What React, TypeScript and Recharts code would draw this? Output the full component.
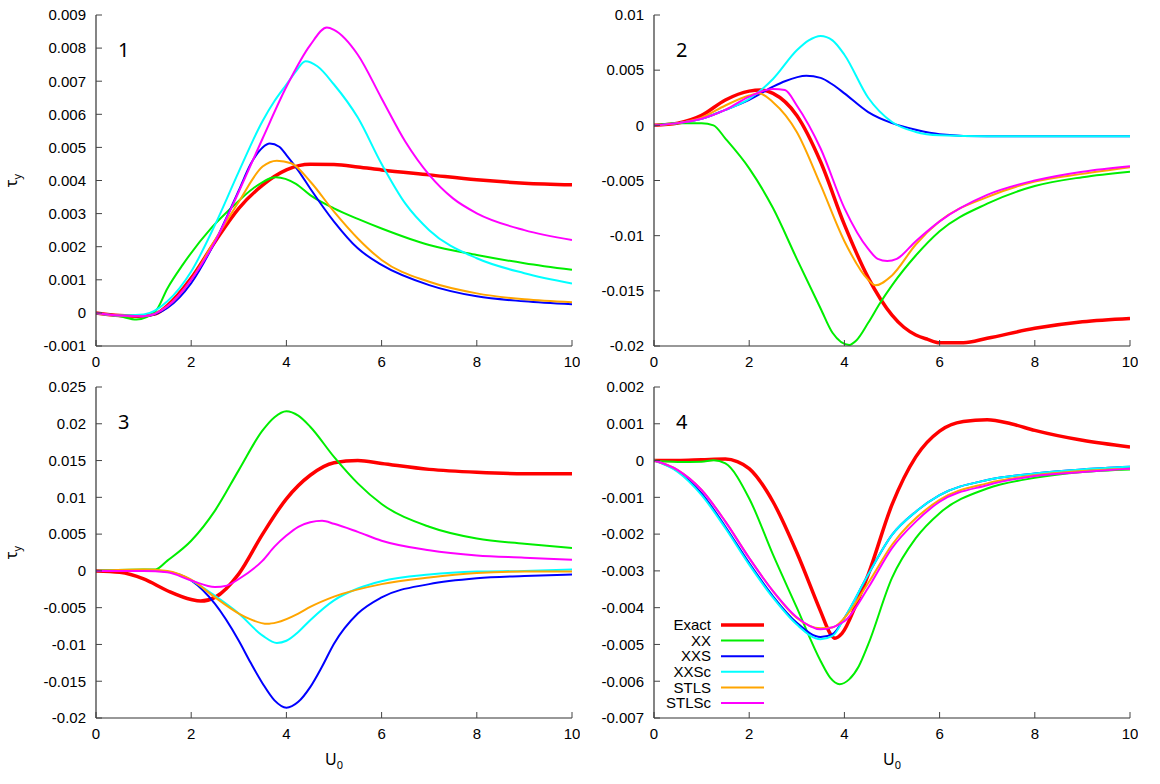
import React from 'react'
import { LineChart, Line, XAxis, YAxis } from 'recharts'

type Pt = [number, number]

const U_TICKS = [0, 2, 4, 6, 8, 10]
const TICKS_1 = [-0.001, 0, 0.001, 0.002, 0.003, 0.004, 0.005, 0.006, 0.007, 0.008, 0.009]
const TICKS_2 = [-0.02, -0.015, -0.01, -0.005, 0, 0.005, 0.01]
const TICKS_3 = [-0.02, -0.015, -0.01, -0.005, 0, 0.005, 0.01, 0.015, 0.02, 0.025]
const TICKS_4 = [-0.007, -0.006, -0.005, -0.004, -0.003, -0.002, -0.001, 0, 0.001, 0.002]

const SERIES_NAMES = ['Exact', 'XX', 'XXS', 'XXSc', 'STLS', 'STLSc']
const SERIES_COLORS = ['#ff0000', '#00ee00', '#0000ff', '#00ffff', '#ffa500', '#ff00ff']
const SERIES_WIDTHS = [3.5, 2, 2, 2, 2, 2]

// panel 1
const p1Exact: Pt[] = [[0, 0], [0.5, -0.00008], [0.9, -0.0001], [1.25, -0.00003], [1.5, 0.00022], [2, 0.00105], [2.5, 0.00215], [3, 0.00316], [3.5, 0.00386], [4, 0.00432], [4.5, 0.00449], [5, 0.00448], [5.5, 0.00441], [6, 0.00432], [7, 0.00417], [8, 0.00402], [9, 0.00392], [10, 0.00387]]
const p1XX: Pt[] = [[0, 0], [0.5, -0.0001], [0.85, -0.0002], [1.25, 0.00005], [1.5, 0.00074], [1.82, 0.00145], [2.42, 0.00256], [2.87, 0.00321], [3.3, 0.00376], [3.78, 0.0041], [4.2, 0.0039], [4.5, 0.00356], [5, 0.00316], [5.5, 0.00284], [6, 0.00255], [7, 0.00205], [8, 0.00175], [9, 0.0015], [10, 0.0013]]
const p1XXS: Pt[] = [[0, 0], [0.5, -0.00008], [1, -0.0001], [1.5, 0.00015], [2, 0.0009], [2.5, 0.00215], [3, 0.0037], [3.25, 0.0045], [3.5, 0.005], [3.65, 0.00512], [3.85, 0.00502], [4, 0.00477], [4.25, 0.0043], [4.5, 0.00376], [5, 0.00276], [5.5, 0.00195], [6, 0.00145], [7, 0.00084], [8, 0.0005], [9, 0.00035], [10, 0.00026]]
const p1XXSc: Pt[] = [[0, 0], [0.5, -0.00008], [1, -0.00005], [1.5, 0.00035], [2, 0.00125], [2.5, 0.00266], [3, 0.00427], [3.5, 0.0058], [3.75, 0.0064], [4, 0.0069], [4.2, 0.0073], [4.4, 0.0076], [4.65, 0.00745], [5, 0.0069], [5.5, 0.0059], [6, 0.0045], [6.5, 0.0033], [7, 0.0025], [8, 0.00165], [9, 0.0012], [10, 0.00089]]
const p1STLS: Pt[] = [[0, 0], [0.5, -0.00008], [1, -0.0001], [1.5, 0.0002], [2, 0.001], [2.5, 0.0022], [3, 0.00336], [3.5, 0.00442], [3.8, 0.0046], [4.1, 0.00452], [4.5, 0.00397], [5, 0.00306], [5.5, 0.00225], [6, 0.0016], [7, 0.00094], [8, 0.00059], [9, 0.00041], [10, 0.00032]]
const p1STLSc: Pt[] = [[0, 0], [0.5, -0.00008], [1, -0.0001], [1.5, 0.0002], [2, 0.001], [2.5, 0.00215], [3, 0.00366], [3.5, 0.00527], [4, 0.00683], [4.5, 0.00809], [4.85, 0.00862], [5, 0.00855], [5.5, 0.0078], [6, 0.00648], [6.5, 0.00517], [7, 0.00417], [7.5, 0.00346], [8, 0.00301], [9, 0.0025], [10, 0.0022]]

// panel 2
const p2Exact: Pt[] = [[0, 0], [0.5, 0.0002], [1, 0.0009], [1.5, 0.0023], [2, 0.0031], [2.25, 0.0032], [2.5, 0.0029], [3, 0.0009], [3.5, -0.0033], [4, -0.009], [4.5, -0.0138], [5, -0.0172], [5.25, -0.0183], [5.5, -0.019], [5.75, -0.0194], [6, -0.0197], [6.5, -0.0197], [7, -0.0193], [8, -0.0184], [9, -0.0178], [10, -0.0175]]
const p2XX: Pt[] = [[0, 0], [0.5, 0.0002], [1, 0.0002], [1.25, 0], [1.5, -0.0012], [2, -0.0039], [2.5, -0.0075], [3, -0.0121], [3.5, -0.0166], [3.75, -0.0188], [4.1, -0.0199], [4.25, -0.0195], [4.5, -0.0179], [4.75, -0.0161], [5, -0.0145], [5.5, -0.0118], [6, -0.0096], [7, -0.0071], [8, -0.0055], [9, -0.0047], [10, -0.0042]]
const p2XXS: Pt[] = [[0, 0], [0.5, 0.0002], [1, 0.0006], [1.5, 0.0014], [2, 0.0023], [2.5, 0.0035], [2.75, 0.004], [3.2, 0.0045], [3.5, 0.0043], [3.75, 0.0037], [4, 0.0029], [4.5, 0.0012], [5, 0.0002], [5.5, -0.0004], [6, -0.0008], [7, -0.001], [8, -0.001], [10, -0.001]]
const p2XXSc: Pt[] = [[0, 0], [0.5, 0.0002], [1, 0.0006], [1.5, 0.0014], [2, 0.0024], [2.5, 0.0042], [3, 0.0068], [3.25, 0.0077], [3.5, 0.0081], [3.75, 0.0077], [4, 0.0064], [4.5, 0.0025], [5, 0.0003], [5.5, -0.0006], [6, -0.0009], [7, -0.001], [10, -0.001]]
const p2STLS: Pt[] = [[0, 0], [0.5, 0.0002], [1, 0.0007], [1.5, 0.0018], [2, 0.0027], [2.2, 0.0029], [2.5, 0.0021], [3, -0.0006], [3.5, -0.0054], [4, -0.0105], [4.5, -0.014], [4.65, -0.0145], [5, -0.0136], [5.5, -0.0108], [6, -0.0087], [7, -0.0065], [8, -0.0051], [9, -0.0044], [10, -0.0038]]
const p2STLSc: Pt[] = [[0, 0], [0.5, 0.0002], [1, 0.0006], [1.5, 0.0014], [2, 0.0026], [2.5, 0.0033], [2.75, 0.0032], [3, 0.0018], [3.5, -0.0021], [4, -0.0075], [4.5, -0.0112], [4.7, -0.0121], [4.9, -0.0123], [5.1, -0.0121], [5.5, -0.0105], [6, -0.0087], [7, -0.0063], [8, -0.005], [9, -0.0042], [10, -0.0037]]

// panel 3
const p3Exact: Pt[] = [[0, 0], [0.5, -0.0002], [1, -0.0011], [1.5, -0.0027], [2, -0.0039], [2.2, -0.0041], [2.5, -0.0036], [3, -0.0004], [3.5, 0.005], [4, 0.0098], [4.5, 0.013], [5, 0.0147], [5.5, 0.015], [6, 0.0146], [7, 0.0138], [8, 0.0134], [9, 0.0132], [10, 0.0132]]
const p3XX: Pt[] = [[0, 0], [1, 0.0002], [1.25, 0.0002], [1.5, 0.0014], [2, 0.0041], [2.5, 0.0082], [3, 0.0137], [3.5, 0.0191], [3.75, 0.0209], [4, 0.0217], [4.25, 0.0211], [4.5, 0.0196], [5, 0.0155], [5.5, 0.0119], [6, 0.0091], [7, 0.006], [8, 0.0044], [9, 0.0037], [10, 0.0031]]
const p3XXS: Pt[] = [[0, 0], [1, 0.0001], [1.5, -0.0001], [2, -0.0013], [2.5, -0.0045], [3, -0.0095], [3.25, -0.0125], [3.5, -0.0153], [3.75, -0.0176], [4, -0.0186], [4.25, -0.0178], [4.5, -0.0158], [4.75, -0.013], [5, -0.0099], [5.5, -0.0058], [6, -0.0036], [7, -0.0018], [8, -0.001], [9, -0.0007], [10, -0.0005]]
const p3XXSc: Pt[] = [[0, 0], [1, 0.0001], [1.5, -0.0001], [2, -0.0013], [2.5, -0.0034], [3, -0.0058], [3.5, -0.0088], [3.8, -0.0098], [4, -0.0095], [4.25, -0.0083], [4.5, -0.0067], [5, -0.004], [5.5, -0.0024], [6, -0.0014], [7, -0.0005], [8, -0.0001], [9, 0], [10, 0.0002]]
const p3STLS: Pt[] = [[0, 0], [1, 0.0002], [1.5, 0], [2, -0.0012], [2.5, -0.0036], [3, -0.0058], [3.25, -0.0066], [3.6, -0.0072], [3.8, -0.007], [4.25, -0.0058], [4.5, -0.0049], [5, -0.0035], [6, -0.0018], [7, -0.0009], [8, -0.0003], [9, -0.0001], [10, -0.0001]]
const p3STLSc: Pt[] = [[0, 0], [1, 0], [1.5, -0.0002], [2, -0.0013], [2.5, -0.0022], [2.75, -0.002], [3, -0.0011], [3.5, 0.0014], [3.75, 0.0033], [4, 0.0048], [4.25, 0.006], [4.5, 0.0066], [4.75, 0.0068], [5, 0.0064], [5.5, 0.0053], [6, 0.0041], [7, 0.0028], [8, 0.0021], [9, 0.0018], [10, 0.0015]]

// panel 4
const p4Exact: Pt[] = [[0, 0], [0.5, 0], [1, 0.00002], [1.5, 0.00004], [1.75, -0.00003], [2, -0.00022], [2.5, -0.00112], [3, -0.0025], [3.5, -0.0041], [3.7, -0.0047], [3.8, -0.00483], [3.95, -0.0047], [4.25, -0.0039], [4.5, -0.0031], [5, -0.0012], [5.5, 0.0001], [6, 0.0008], [6.5, 0.00106], [7, 0.00111], [7.5, 0.001], [8, 0.00082], [9, 0.00055], [10, 0.00037]]
const p4XX: Pt[] = [[0, 0], [0.5, -0.00004], [1, -0.00003], [1.25, 0.00001], [1.5, -0.00008], [2, -0.00103], [2.5, -0.00256], [3, -0.004], [3.5, -0.00545], [3.7, -0.0059], [3.9, -0.00608], [4.1, -0.00595], [4.3, -0.0056], [4.5, -0.005], [5, -0.00319], [5.5, -0.00211], [6, -0.00143], [7, -0.00076], [8, -0.00047], [9, -0.00031], [10, -0.00024]]
const p4XXS: Pt[] = [[0, 0], [0.5, -0.00029], [1, -0.00089], [1.5, -0.0018], [2, -0.00279], [2.5, -0.00369], [3, -0.00441], [3.5, -0.0048], [3.75, -0.00472], [4, -0.00428], [4.5, -0.0031], [5, -0.00202], [5.5, -0.00139], [6, -0.00094], [7, -0.00053], [8, -0.00035], [9, -0.00024], [10, -0.00017]]
const p4XXSc: Pt[] = [[0, 0], [0.5, -0.00031], [1, -0.00094], [1.5, -0.00184], [2, -0.00283], [2.5, -0.00373], [3, -0.00446], [3.5, -0.00486], [3.75, -0.00477], [4, -0.00428], [4.5, -0.0031], [5, -0.00202], [5.5, -0.00139], [6, -0.00094], [7, -0.00053], [8, -0.00035], [9, -0.00024], [10, -0.00017]]
const p4STLS: Pt[] = [[0, 0], [0.5, -0.00026], [1, -0.0008], [1.5, -0.00166], [2, -0.00265], [2.5, -0.00355], [3, -0.00428], [3.5, -0.00456], [3.75, -0.00454], [4, -0.00428], [4.5, -0.00333], [5, -0.00229], [6, -0.00107], [7, -0.00062], [8, -0.0004], [10, -0.00022]]
const p4STLSc: Pt[] = [[0, 0], [0.5, -0.00026], [1, -0.0008], [1.5, -0.00166], [2, -0.00265], [2.5, -0.00355], [3, -0.00426], [3.5, -0.00459], [4, -0.00437], [4.5, -0.00346], [5, -0.00238], [5.5, -0.00166], [6, -0.00112], [7, -0.00067], [8, -0.00042], [9, -0.00031], [10, -0.00022]]

const FONT = '"Liberation Sans", Arial, sans-serif'
const TAG_FONT = '"Noto Sans", "DejaVu Sans", sans-serif'

// plot-area size and the room left for the y tick labels / top gap
const PLOT_W = 476
const PLOT_H = 331
const PAD_L = 96
const PAD_T = 15

const fmtTick = (v: number) => String(Number(v.toFixed(4)))

// empty tick label for the mirrored top/right axes, so only tick marks show
const NoLabel = () => <g />

interface PanelProps {
  left: number
  top: number
  series: Pt[][]
  ticks: number[]
}

function Panel({ left, top, series, ticks }: PanelProps) {
  const domain: [number, number] = [ticks[0], ticks[ticks.length - 1]]
  const tickLine = { stroke: '#444', strokeWidth: 1 }
  const axisLine = { stroke: '#333', strokeWidth: 1.2 }
  return (
    <div style={{ position: 'absolute', left: left - PAD_L, top: top - PAD_T }}>
      <LineChart
        width={PAD_L + PLOT_W + 8}
        height={PAD_T + PLOT_H + 34}
        margin={{ top: PAD_T, right: 8, bottom: 0, left: 0 }}
        style={{ fontFamily: FONT }}
      >
        <XAxis
          xAxisId={0} dataKey="x" type="number" domain={[0, 10]} ticks={U_TICKS}
          allowDataOverflow height={34} tickSize={-6} tickMargin={16}
          tick={{ fontSize: 15, fill: '#000' }} tickLine={tickLine} axisLine={axisLine}
        />
        <XAxis
          xAxisId="top" orientation="top" dataKey="x" type="number" domain={[0, 10]} ticks={U_TICKS}
          allowDataOverflow height={0} tickSize={-6} tick={NoLabel} tickLine={tickLine} axisLine={axisLine}
        />
        <YAxis
          yAxisId={0} type="number" domain={domain} ticks={ticks} allowDataOverflow
          width={PAD_L} tickSize={-6} tickMargin={16} tickFormatter={fmtTick}
          tick={{ fontSize: 15, fill: '#000' }} tickLine={tickLine} axisLine={axisLine}
        />
        <YAxis
          yAxisId="right" orientation="right" type="number" domain={domain} ticks={ticks} allowDataOverflow
          width={0} tickSize={-6} tick={NoLabel} tickLine={tickLine} axisLine={axisLine}
        />
        {series.map((pts, i) => (
          <Line
            key={SERIES_NAMES[i]}
            data={pts.map(([x, y]) => ({ x, y }))}
            dataKey="y"
            name={SERIES_NAMES[i]}
            type="monotone"
            stroke={SERIES_COLORS[i]}
            strokeWidth={SERIES_WIDTHS[i]}
            dot={false}
            activeDot={false}
            isAnimationActive={false}
          />
        ))}
      </LineChart>
    </div>
  )
}

const PANELS = [
  { tag: '1', left: 96, top: 15, ticks: TICKS_1, series: [p1Exact, p1XX, p1XXS, p1XXSc, p1STLS, p1STLSc] },
  { tag: '2', left: 654, top: 15, ticks: TICKS_2, series: [p2Exact, p2XX, p2XXS, p2XXSc, p2STLS, p2STLSc] },
  { tag: '3', left: 96, top: 387, ticks: TICKS_3, series: [p3Exact, p3XX, p3XXS, p3XXSc, p3STLS, p3STLSc] },
  { tag: '4', left: 654, top: 387, ticks: TICKS_4, series: [p4Exact, p4XX, p4XXS, p4XXSc, p4STLS, p4STLSc] },
]

export default function App() {
  const legendX = 711
  const legendY = 625
  const rowH = 15.6
  return (
    <div style={{ position: 'absolute', left: 0, top: 0, width: 1160, height: 784, background: '#fff' }}>
      {PANELS.map((p) => (
        <Panel key={p.tag} left={p.left} top={p.top} series={p.series} ticks={p.ticks} />
      ))}
      <svg width={1160} height={784} style={{ position: 'absolute', left: 0, top: 0, pointerEvents: 'none' }}>
        {PANELS.map((p) => (
          <text key={p.tag} x={p.left + 22} y={p.top + 42} fontSize={20} fontFamily={TAG_FONT} fill="#000">
            {p.tag}
          </text>
        ))}
        {[15, 387].map((t) => (
          <text
            key={'ty' + t}
            transform={`translate(17, ${t + PLOT_H / 2}) rotate(-90)`}
            textAnchor="middle"
            fontSize={16}
            fontFamily={TAG_FONT}
            fill="#000"
          >
            τ<tspan fontSize={11} dy={4}>y</tspan>
          </text>
        ))}
        {[96, 654].map((l) => (
          <text key={'u' + l} x={l + PLOT_W / 2} y={765} textAnchor="middle" fontSize={16} fontFamily={TAG_FONT} fill="#000">
            U<tspan fontSize={11} dy={4}>0</tspan>
          </text>
        ))}
        {SERIES_NAMES.map((name, i) => (
          <g key={name}>
            <text x={legendX} y={legendY + i * rowH} dy="0.35em" textAnchor="end" fontSize={15} fontFamily={FONT} fill="#000">
              {name}
            </text>
            <line
              x1={legendX + 10} x2={legendX + 53}
              y1={legendY + i * rowH} y2={legendY + i * rowH}
              stroke={SERIES_COLORS[i]} strokeWidth={SERIES_WIDTHS[i]}
            />
          </g>
        ))}
      </svg>
    </div>
  )
}
